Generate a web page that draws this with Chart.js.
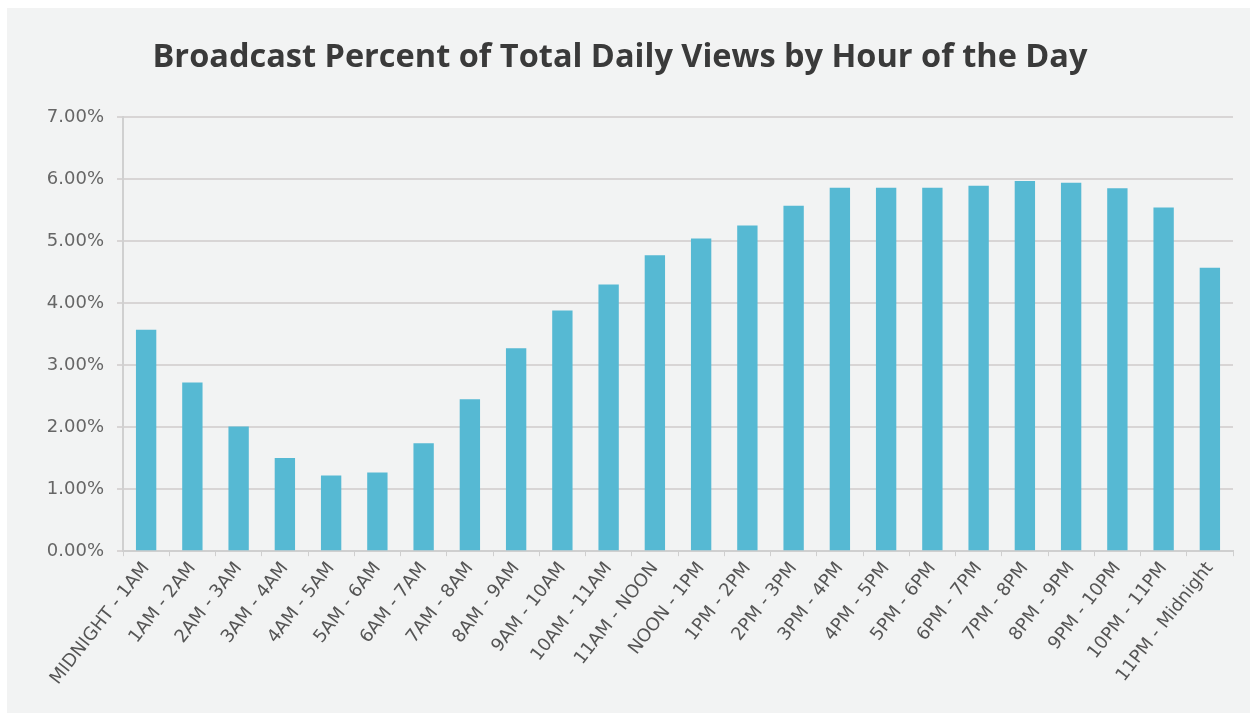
<!DOCTYPE html>
<html>
<head>
<meta charset="utf-8">
<script src="https://cdn.jsdelivr.net/npm/chart.js@4/dist/chart.umd.min.js"></script>
<style>
  html, body { margin: 0; padding: 0; background: #ffffff; }
  #panel {
    position: absolute; left: 7px; top: 8px;
    width: 1243px; height: 705px;
    background: #f2f3f3;
  }
  #chart { display: block; }
</style>
</head>
<body>
<div id="panel"><canvas id="chart" width="1243" height="705"></canvas></div>
<script>
// categorias (horas del dia)
const horas = [
  'MIDNIGHT - 1AM', '1AM - 2AM', '2AM - 3AM', '3AM - 4AM', '4AM - 5AM', '5AM - 6AM',
  '6AM - 7AM', '7AM - 8AM', '8AM - 9AM', '9AM - 10AM', '10AM - 11AM', '11AM - NOON',
  'NOON - 1PM', '1PM - 2PM', '2PM - 3PM', '3PM - 4PM', '4PM - 5PM', '5PM - 6PM',
  '6PM - 7PM', '7PM - 8PM', '8PM - 9PM', '9PM - 10PM', '10PM - 11PM', '11PM - Midnight'
];

// porcentaje de vistas diarias
const porcentajeVistas = [
  3.57, 2.72, 2.01, 1.50, 1.22, 1.27,
  1.74, 2.45, 3.27, 3.88, 4.30, 4.77,
  5.04, 5.25, 5.57, 5.86, 5.86, 5.86,
  5.89, 5.97, 5.94, 5.85, 5.54, 4.57
];

const tituloGrafico = 'Broadcast Percent of Total Daily Views by Hour of the Day';
const ejeYMax = 7;

const ctx = document.getElementById('chart').getContext('2d');

new Chart(ctx, {
    type: 'bar',
    data: {
        labels: horas,
        datasets: [{
            label: 'Percent of daily views',
            data: porcentajeVistas,
            backgroundColor: '#56b9d3',
            categoryPercentage: 1.0,
            barPercentage: 0.44
        }]
    },
    options: {
        responsive: false,
        animation: false,
        layout: { padding: { left: 0, right: 17, top: 0, bottom: 22 } },
        plugins: {
            legend: { display: false },
            tooltip: { enabled: false },
            title: {
                display: true,
                text: tituloGrafico,
                color: '#3a3a3a',
                font: { family: 'Open Sans', size: 32.5, weight: 'bold' },
                padding: { top: 30, bottom: 40 }
            }
        },
        scales: {
            y: {
                min: 0,
                max: ejeYMax,
                afterFit: (escala) => { escala.width = 116; },
                ticks: {
                    stepSize: 1,
                    color: '#666666',
                    font: { family: 'DejaVu Sans', size: 18 },
                    padding: 13,
                    callback: (v) => v.toFixed(2) + '%'
                },
                grid: { color: '#d8d5d5', lineWidth: 2, tickLength: 6 },
                border: { display: true, color: '#d0d0d0', width: 2 }
            },
            x: {
                ticks: {
                    color: '#555555',
                    font: { family: 'DejaVu Sans', size: 18 },
                    minRotation: 52,
                    maxRotation: 52,
                    autoSkip: false,
                    padding: 2
                },
                grid: { display: true, drawOnChartArea: false, color: '#cfcfcf', tickLength: 5, offset: true },
                border: { display: true, color: '#cfcfcf', width: 2 }
            }
        }
    }
});
</script>
</body>
</html>
